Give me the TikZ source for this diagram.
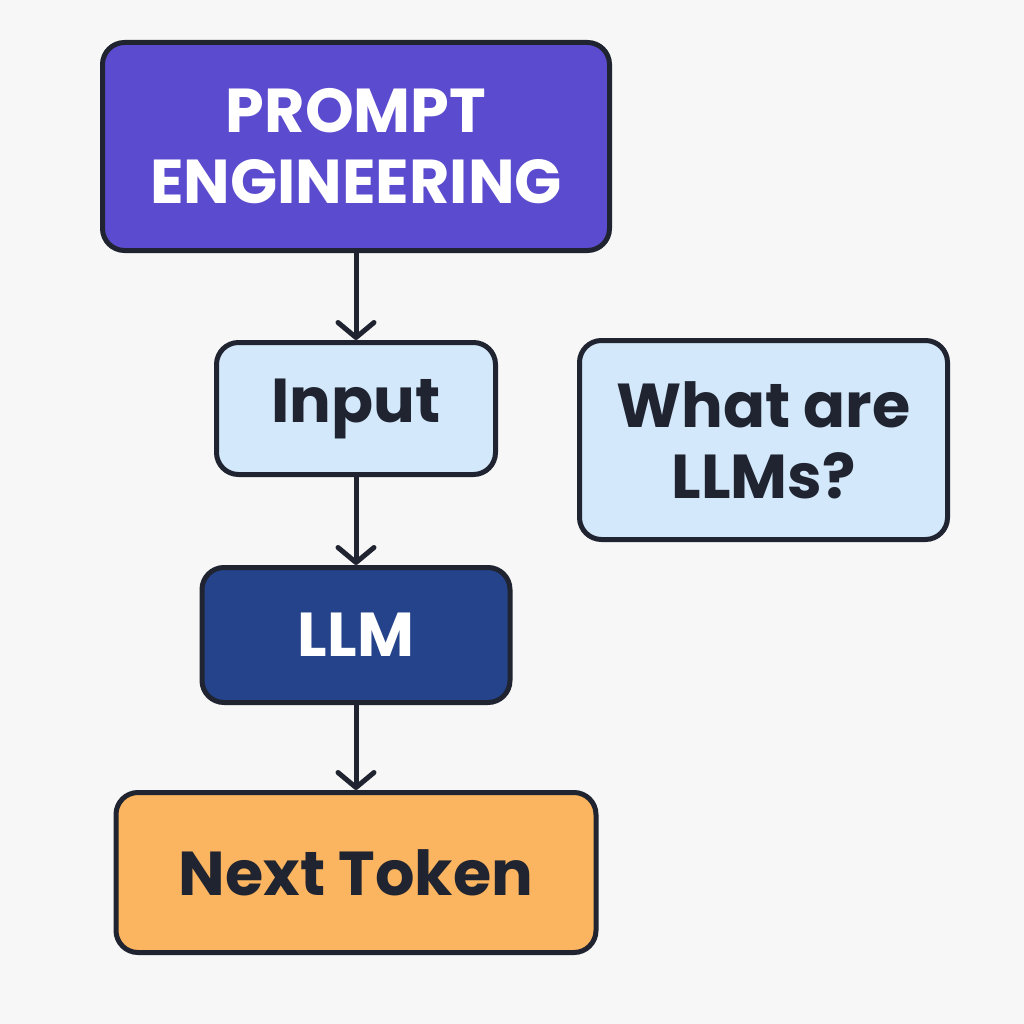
\documentclass[tikz,border=0pt]{standalone}
\usepackage{fontspec}
\setmainfont{Poppins}
\usetikzlibrary{arrows.meta}
\definecolor{bgc}{HTML}{F7F7F7}
\definecolor{edgec}{HTML}{1F2430}
\definecolor{purp}{HTML}{5B4BCF}
\definecolor{lblue}{HTML}{D3E8FB}
\definecolor{dblue}{HTML}{25438A}
\definecolor{orng}{HTML}{FBB45F}
\begin{document}
\begin{tikzpicture}[x=1pt,y=-1pt,
  box/.style={draw=edgec, line width=5pt, rounded corners=22pt, align=center,
    inner sep=0pt, font=\fontsize{62}{71}\selectfont\bfseries},
  conn/.style={draw=edgec, line width=5pt, line cap=round,
    -{Straight Barb[length=15pt,width=36pt,round,line width=5pt]}}]
\fill[bgc] (0,0) rectangle (1024,1024);
\useasboundingbox (0,0) rectangle (1024,1024);
\node[box, fill=purp, text=white, minimum width=507pt, minimum height=208pt] (pe) at (356,146.5) {PROMPT\\ENGINEERING};
\node[box, fill=lblue, text=edgec, minimum width=279pt, minimum height=132pt] (in) at (356,408.5) {Input};
\node[box, fill=dblue, text=white, minimum width=308pt, minimum height=135pt] (llm) at (356,635) {LLM};
\node[box, fill=orng, text=edgec, minimum width=480pt, minimum height=160pt] (nt) at (356,872.5) {Next Token};
\node[box, fill=lblue, text=edgec, minimum width=368pt, minimum height=199pt] (wq) at (763.5,440) {What are\\LLMs?};
\draw[conn] (pe.south) -- (in.north);
\draw[conn] (in.south) -- (llm.north);
\draw[conn] (llm.south) -- (nt.north);
\end{tikzpicture}
\end{document}
